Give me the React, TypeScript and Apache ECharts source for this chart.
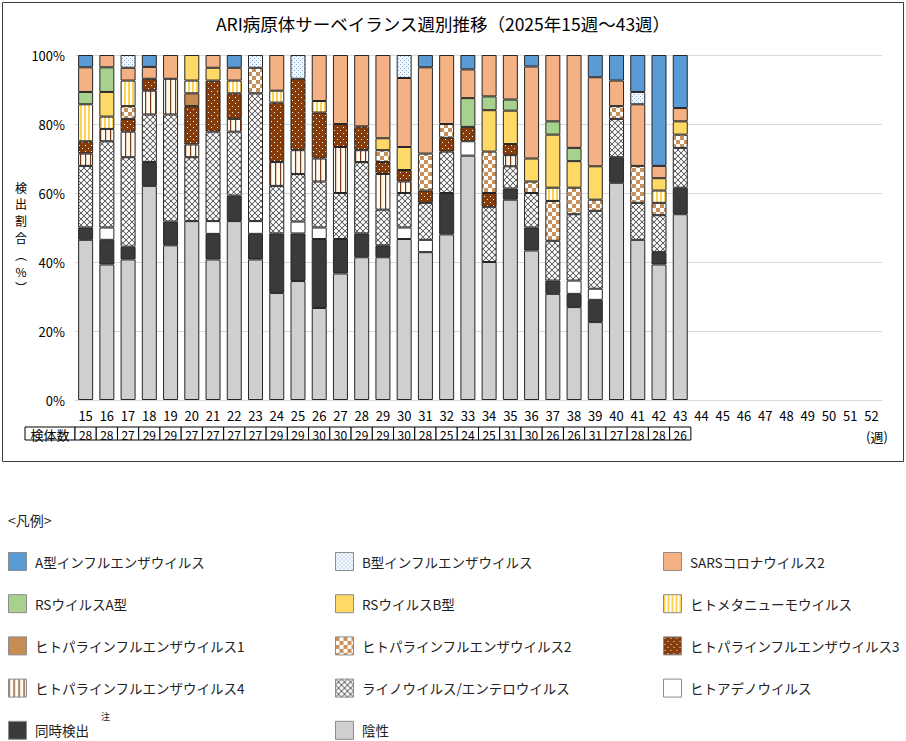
import { useEffect, useRef } from "react";
import * as echarts from "echarts";

// ---- data ----
const weeks = ["15","16","17","18","19","20","21","22","23","24","25","26","27","28","29","30","31","32","33","34","35","36","37","38","39","40","41","42","43","44","45","46","47","48","49","50","51","52"];
const sampleSizes = [28,28,27,29,29,27,27,27,27,29,29,30,30,29,29,30,28,25,24,25,31,30,26,26,31,27,28,28,26];
const yTicks = [0, 20, 40, 60, 80, 100];

// counts of detections per week (weeks 15..43)
const fluA   = [1,0,0,1,0,0,0,1,0,0,0,0,0,0,0,0,1,0,1,0,0,1,0,0,2,2,3,9,4];
const fluB   = [0,0,1,0,0,0,0,0,1,0,2,0,0,0,0,2,0,0,0,0,0,0,0,0,0,0,1,0,0];
const sars2  = [2,1,1,1,2,0,1,1,0,3,0,4,6,6,7,6,7,5,2,3,4,8,5,7,8,2,5,1,1];
const rsvA   = [1,2,0,0,0,0,0,0,0,0,0,0,0,0,0,0,0,0,2,1,1,0,1,1,0,0,0,0,0];
const rsvB   = [0,2,0,0,0,2,1,0,0,0,0,0,0,0,1,2,0,0,0,3,3,2,4,2,3,0,0,1,1];
const hmpv   = [3,1,2,0,0,1,0,1,0,1,0,1,0,0,0,0,0,0,0,0,0,0,1,0,0,0,0,1,0];
const para1  = [0,0,0,0,0,1,0,0,0,0,0,0,0,0,0,0,0,0,0,0,0,0,0,0,0,0,0,0,0];
const para2  = [0,0,1,0,0,0,0,0,2,0,0,0,0,0,1,0,3,1,0,3,0,1,3,2,1,1,3,1,1];
const para3  = [1,0,1,1,0,3,4,2,0,5,6,4,2,2,1,1,1,1,1,1,1,0,0,0,0,0,0,0,0];
const para4  = [1,1,2,2,3,1,0,1,0,2,2,2,4,1,3,1,0,0,0,0,1,0,0,0,0,0,0,0,0];
const rhino  = [5,7,7,4,9,5,7,5,10,4,4,4,4,6,3,3,3,3,0,4,2,3,3,5,7,3,3,3,3];
const adeno  = [0,1,0,0,0,0,1,0,1,0,1,1,0,0,0,1,1,0,1,0,0,0,0,1,1,0,0,0,0];
const coDet  = [1,2,1,2,2,0,2,2,2,5,4,6,3,2,1,0,0,3,0,0,1,2,1,1,2,2,0,1,2];
const negative = [13,11,11,18,13,14,11,14,11,9,10,8,11,12,12,14,12,12,17,10,18,13,8,7,7,17,13,11,14];

// legend order (top of stack first)
const seriesNames = [
  "A型インフルエンザウイルス", "B型インフルエンザウイルス", "SARSコロナウイルス2",
  "RSウイルスA型", "RSウイルスB型", "ヒトメタニューモウイルス",
  "ヒトパラインフルエンザウイルス1", "ヒトパラインフルエンザウイルス2", "ヒトパラインフルエンザウイルス3",
  "ヒトパラインフルエンザウイルス4", "ライノウイルス/エンテロウイルス", "ヒトアデノウイルス",
  "同時検出", "陰性",
];
const seriesCounts = [fluA, fluB, sars2, rsvA, rsvB, hmpv, para1, para2, para3, para4, rhino, adeno, coDet, negative];

const legendCol1 = [seriesNames[0], seriesNames[3], seriesNames[6], seriesNames[9], seriesNames[12]];
const legendCol2 = [seriesNames[1], seriesNames[4], seriesNames[7], seriesNames[10], seriesNames[13]];
const legendCol3 = [seriesNames[2], seriesNames[5], seriesNames[8], seriesNames[11]];

const FONT = '"Noto Sans CJK JP", "Noto Sans", sans-serif';

function pat(w: number, h: number, draw: (ctx: CanvasRenderingContext2D) => void) {
  const c = document.createElement("canvas");
  c.width = w * 4;
  c.height = h * 4;
  const ctx = c.getContext("2d")!;
  ctx.scale(4, 4);
  draw(ctx);
  return { image: c.toDataURL(), repeat: "repeat", imageWidth: w, imageHeight: h };
}

function makeFills(): any[] {
  const fB = pat(4, 4, (c) => {
    c.fillStyle = "#f3f8fd"; c.fillRect(0, 0, 4, 4);
    c.fillStyle = "#7ea9d8"; c.fillRect(0, 0, 1, 1); c.fillRect(2, 2, 1, 1);
  });
  const fHmpv = pat(4, 4, (c) => {
    c.fillStyle = "#ffffff"; c.fillRect(0, 0, 4, 4);
    c.fillStyle = "#ffd34f"; c.fillRect(0, 0, 2, 4);
  });
  const fP2 = pat(8, 8, (c) => {
    c.fillStyle = "#ffffff"; c.fillRect(0, 0, 8, 8);
    c.fillStyle = "#c8915a"; c.fillRect(0, 0, 4, 4); c.fillRect(4, 4, 4, 4);
  });
  const fP3 = pat(6, 6, (c) => {
    c.fillStyle = "#863b0b"; c.fillRect(0, 0, 6, 6);
    c.fillStyle = "#ffffff"; c.fillRect(1, 1, 1, 1); c.fillRect(4, 4, 1, 1);
  });
  const fP4 = pat(5, 5, (c) => {
    c.fillStyle = "#fffaf2"; c.fillRect(0, 0, 5, 5);
    c.fillStyle = "#7a3910"; c.fillRect(0, 0, 1.2, 5);
  });
  const fRhino = pat(6, 6, (c) => {
    c.fillStyle = "#ffffff"; c.fillRect(0, 0, 6, 6);
    c.strokeStyle = "#333333"; c.lineWidth = 0.7;
    c.beginPath(); c.moveTo(0, 0); c.lineTo(6, 6); c.moveTo(6, 0); c.lineTo(0, 6); c.stroke();
  });
  return [
    "#5b9bd5", fB, "#f4b183", "#a9d18e", "#ffd966", fHmpv,
    "#c78c52", fP2, fP3, fP4, fRhino, "#ffffff", "#3a3a3a", "#d0cece",
  ];
}

export default function App() {
  const ref = useRef<HTMLDivElement>(null);

  useEffect(() => {
    const chart = echarts.init(ref.current!, null, { renderer: "svg" });
    const fills = makeFills();

    // stack from the bottom: 陰性 first
    const series = seriesNames
      .map((name, k) => ({
        name,
        type: "bar",
        stack: "total",
        barWidth: 15,
        data: seriesCounts[k].map((c, i) => (c > 0 ? (c / sampleSizes[i]) * 100 : "-")),
        itemStyle: { color: fills[k], borderColor: "#262626", borderWidth: 1 },
        emphasis: { disabled: true },
      }))
      .reverse();

    const legendBase = {
      orient: "vertical",
      top: 552,
      height: 220,
      padding: 0,
      itemWidth: 18,
      itemHeight: 18,
      itemGap: 23.2,
      icon: "rect",
      selectedMode: false,
      itemStyle: { borderColor: "#8c8c8c", borderWidth: 1 },
      textStyle: { fontFamily: FONT, fontSize: 13.5, color: "#222", padding: [0, 0, 0, 3.5] },
    };

    chart.setOption({
      animation: false,
      textStyle: { fontFamily: FONT },
      grid: { left: 75, right: 24, top: 55, bottom: 341, containLabel: false, outerBoundsMode: "none" },
      legend: [
        { ...legendBase, left: 8, data: legendCol1 },
        { ...legendBase, left: 335, data: legendCol2 },
        { ...legendBase, left: 663, data: legendCol3 },
      ],
      xAxis: {
        type: "category",
        data: weeks,
        axisTick: { show: false },
        axisLine: { lineStyle: { color: "#d9d9d9" } },
        axisLabel: { interval: 0, fontSize: 13, color: "#000", margin: 9, fontFamily: FONT },
      },
      yAxis: {
        type: "value",
        min: yTicks[0],
        max: yTicks[yTicks.length - 1],
        interval: 20,
        axisLine: { show: false },
        axisTick: { show: false },
        splitLine: { lineStyle: { color: "#d9d9d9" } },
        axisLabel: { formatter: "{value}%", fontSize: 13, color: "#000", margin: 10, fontFamily: FONT },
      },
      series,
    });

    const xs = weeks.map((w) => chart.convertToPixel({ xAxisIndex: 0 }, w) as number);
    const cw = xs[1] - xs[0];
    const y0 = chart.convertToPixel({ yAxisIndex: 0 }, 0) as number;
    const tTop = y0 + 27;
    const tH = 13;

    const yNameChars = ["検", "出", "割", "合", "︵", "%", "︶"];

    const graphics: any[] = [
      { type: "rect", shape: { x: 2.5, y: 2.5, width: 901, height: 459 }, style: { fill: "none", stroke: "#3c3c3c", lineWidth: 1 }, silent: true },
      { type: "text", x: 443, y: 23, style: { text: "ARI病原体サーベイランス週別推移（2025年15週～43週）", fontFamily: FONT, fontSize: 17.5, fill: "#000", align: "center", verticalAlign: "middle" } },
      { type: "text", x: 877, y: 436, style: { text: "(週)", fontFamily: FONT, fontSize: 13, fill: "#000", align: "center", verticalAlign: "middle" } },
      { type: "text", x: 8, y: 520, style: { text: "<凡例>", fontFamily: FONT, fontSize: 14, fill: "#222", align: "left", verticalAlign: "middle" } },
      { type: "text", x: 101, y: 716, style: { text: "注", fontFamily: FONT, fontSize: 9, fill: "#222", align: "left", verticalAlign: "middle" } },
      { type: "rect", shape: { x: 25, y: tTop, width: xs[0] - cw / 2 - 25, height: tH }, style: { fill: "#fff", stroke: "#000", lineWidth: 1 } },
      { type: "text", x: (25 + xs[0] - cw / 2) / 2, y: tTop + tH / 2 + 0.5, style: { text: "検体数", fontFamily: FONT, fontSize: 13, fill: "#000", align: "center", verticalAlign: "middle" } },
    ];
    yNameChars.forEach((ch, i) => {
      graphics.push({ type: "text", x: 21, y: 187 + i * 16.8, style: { text: ch, fontFamily: FONT, fontSize: 12, fill: "#000", align: "center", verticalAlign: "middle" } });
    });
    sampleSizes.forEach((n, i) => {
      graphics.push({ type: "rect", shape: { x: xs[i] - cw / 2, y: tTop, width: cw, height: tH }, style: { fill: "#fff", stroke: "#000", lineWidth: 1 } });
      graphics.push({ type: "text", x: xs[i], y: tTop + tH / 2 + 0.5, style: { text: String(n), fontFamily: FONT, fontSize: 12, fill: "#000", align: "center", verticalAlign: "middle" } });
    });

    chart.setOption({ graphic: graphics });

    return () => chart.dispose();
  }, []);

  return <div ref={ref} style={{ position: "fixed", left: 0, top: 0, width: 906, height: 741, background: "#fff" }} />;
}
